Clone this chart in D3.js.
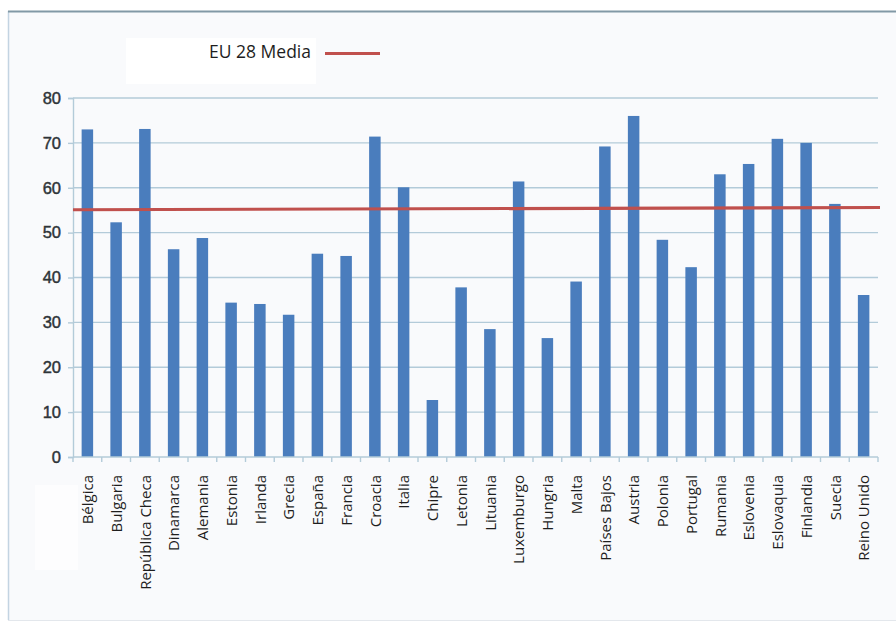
<!DOCTYPE html>
<html>
<head>
<meta charset="utf-8">
<script src="https://cdn.jsdelivr.net/npm/d3@7"></script>
<style>
  html, body { margin: 0; padding: 0; background: #ffffff; }
  svg { display: block; }
</style>
</head>
<body>
<svg id="chart" width="896" height="622"></svg>
<script>
// Países de la UE-28
const countries = [
  "Bélgica", "Bulgaria", "República Checa", "Dinamarca", "Alemania", "Estonia",
  "Irlanda", "Grecia", "España", "Francia", "Croacia", "Italia", "Chipre",
  "Letonia", "Lituania", "Luxemburgo", "Hungria", "Malta", "Países Bajos",
  "Austria", "Polonia", "Portugal", "Rumania", "Eslovenia", "Eslovaquia",
  "Finlandia", "Suecia", "Reino Unido"
];
const values = [
  73.0, 52.3, 73.1, 46.3, 48.8, 34.4,
  34.1, 31.7, 45.3, 44.8, 71.4, 60.1, 12.7,
  37.8, 28.5, 61.4, 26.5, 39.1, 69.2,
  76.0, 48.4, 42.3, 63.0, 65.3, 70.9,
  70.0, 56.4, 36.1
];
// Media UE-28 (extremo izquierdo y derecho de la línea)
const euMedia = [55.1, 55.6];
const yTicks = [0, 10, 20, 30, 40, 50, 60, 70, 80];
const legendLabel = "EU 28 Media";

const svg = d3.select("#chart");
const W = 896, H = 622;
const plot = { left: 73, right: 878, top: 98, bottom: 457 };

// Marco del gráfico
svg.append("rect").attr("x", 8).attr("y", 11).attr("width", W - 8).attr("height", 609)
  .attr("fill", "#f9fafc");
svg.append("rect").attr("x", 35).attr("y", 485).attr("width", 43).attr("height", 85)
  .attr("fill", "#fdfdfe");
svg.append("line").attr("x1", 8.5).attr("x2", 8.5).attr("y1", 11).attr("y2", 620)
  .attr("stroke", "#c3d4e2").attr("stroke-width", 1.5);
svg.append("line").attr("x1", 8).attr("x2", W).attr("y1", 620.5).attr("y2", 620.5)
  .attr("stroke", "#e3e7ec").attr("stroke-width", 1);
svg.append("line").attr("x1", 8).attr("x2", W).attr("y1", 11.5).attr("y2", 11.5)
  .attr("stroke", "#8299a6").attr("stroke-width", 2.2);

const x = d3.scaleBand().domain(countries)
  .range([plot.left, plot.right]).paddingInner(0.6).paddingOuter(0.3);
const y = d3.scaleLinear().domain([0, 80]).range([plot.bottom, plot.top]);

const gridColor = "#b3cbd9";

// Líneas de cuadrícula
svg.append("g").selectAll("line").data(yTicks.filter(d => d > 0)).join("line")
  .attr("x1", plot.left).attr("x2", plot.right)
  .attr("y1", d => y(d)).attr("y2", d => y(d))
  .attr("stroke", gridColor).attr("stroke-width", 1.4);

// Eje Y
const yAxis = svg.append("g").attr("transform", `translate(${plot.left},0)`)
  .call(d3.axisLeft(y).tickValues(yTicks).tickSize(5).tickPadding(7).tickFormat(d3.format("d")));
yAxis.select(".domain").attr("stroke", gridColor).attr("stroke-width", 1.4);
yAxis.selectAll(".tick line").attr("stroke", gridColor).attr("stroke-width", 1.4);
yAxis.selectAll(".tick text")
  .attr("font-family", "Liberation Sans, Arial, sans-serif")
  .attr("font-size", 16.5).attr("fill", "#2e3438")
  .attr("stroke", "#2e3438").attr("stroke-width", 0.45);

// Barras
svg.append("g").selectAll("rect").data(values).join("rect")
  .attr("x", (d, i) => x(countries[i]))
  .attr("width", x.bandwidth())
  .attr("y", d => y(d))
  .attr("height", d => y(0) - y(d))
  .attr("fill", "#4a7dbd");

// Eje X con marcas en los límites de cada categoría
svg.append("line").attr("x1", plot.left).attr("x2", plot.right)
  .attr("y1", plot.bottom).attr("y2", plot.bottom)
  .attr("stroke", gridColor).attr("stroke-width", 1.4);
const step = x.step();
svg.append("g").selectAll("line").data(d3.range(countries.length + 1)).join("line")
  .attr("x1", i => plot.left + i * step).attr("x2", i => plot.left + i * step)
  .attr("y1", plot.bottom).attr("y2", plot.bottom + 5)
  .attr("stroke", gridColor).attr("stroke-width", 1.4);

svg.append("g").selectAll("text").data(countries).join("text")
  .attr("transform", d => `translate(${x(d) + x.bandwidth() / 2 + 0.5},${plot.bottom + 18}) rotate(-90)`)
  .attr("dy", "0.35em")
  .attr("text-anchor", "end")
  .attr("font-family", "Open Sans, sans-serif")
  .attr("font-size", 15)
  .attr("fill", "#1e1e1e")
  .text(d => d);

// Línea de la media UE-28
const xm = d3.scaleLinear().domain([0, 1]).range([plot.left, 880]);
svg.append("path")
  .datum(euMedia)
  .attr("d", d3.line().x((d, i) => xm(i)).y(d => y(d)))
  .attr("fill", "none").attr("stroke", "#c0504d").attr("stroke-width", 3.2);

// Leyenda
svg.append("rect").attr("x", 126).attr("y", 38).attr("width", 190).attr("height", 46)
  .attr("fill", "#ffffff");
svg.append("text").attr("x", 311).attr("y", 58)
  .attr("text-anchor", "end")
  .attr("font-family", "Open Sans, sans-serif")
  .attr("font-size", 17.5).attr("fill", "#1e1e1e")
  .text(legendLabel);
svg.append("line").attr("x1", 325).attr("x2", 380).attr("y1", 53.5).attr("y2", 53.5)
  .attr("stroke", "#c0504d").attr("stroke-width", 3);
</script>
</body>
</html>
